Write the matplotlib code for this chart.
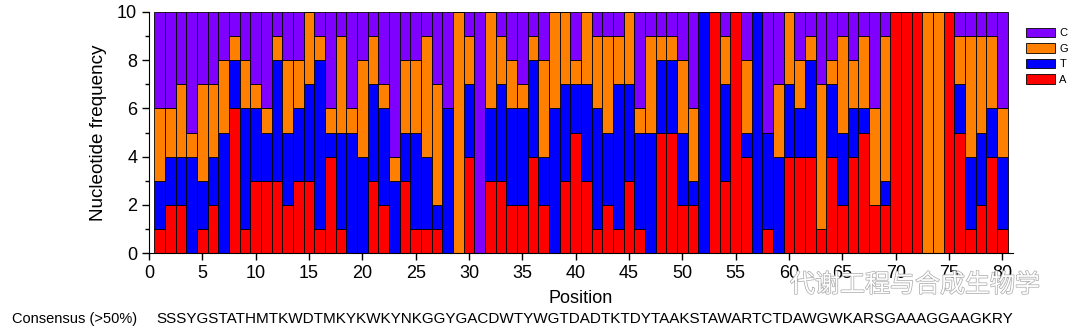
import matplotlib
matplotlib.use("Agg")
import matplotlib.pyplot as plt
import matplotlib.patheffects as pe
import numpy as np

plt.rcParams['font.family'] = ['Liberation Sans', 'DejaVu Sans']

# Nucleotide counts per position (out of 10).
positions = np.arange(1, 81)
count_a = [1, 2, 2, 0, 1, 2, 0, 6, 1, 3, 3, 3, 2, 3, 3, 1, 4, 1, 0, 0,
           3, 2, 0, 3, 1, 1, 1, 0, 0, 4, 0, 3, 3, 2, 2, 4, 2, 0, 3, 5,
           3, 1, 2, 1, 3, 1, 0, 5, 5, 2, 2, 0, 10, 3, 10, 4, 0, 1, 0, 4,
           4, 4, 1, 4, 2, 4, 5, 2, 2, 10, 10, 10, 0, 0, 10, 5, 1, 2, 4, 1]
count_t = [2, 2, 2, 4, 2, 2, 5, 2, 5, 3, 2, 5, 3, 3, 4, 7, 1, 4, 5, 4,
           4, 4, 3, 2, 4, 3, 1, 6, 0, 3, 0, 3, 4, 4, 4, 4, 2, 6, 4, 2,
           4, 5, 3, 6, 4, 4, 5, 3, 3, 3, 1, 10, 0, 4, 0, 1, 10, 4, 4, 3,
           2, 4, 0, 3, 3, 2, 1, 0, 1, 0, 0, 0, 0, 0, 0, 2, 3, 3, 2, 3]
count_g = [3, 2, 3, 1, 4, 3, 3, 1, 2, 1, 1, 1, 3, 2, 3, 1, 1, 4, 1, 4,
           2, 1, 1, 3, 3, 5, 5, 0, 10, 2, 0, 4, 2, 2, 1, 1, 4, 4, 3, 1,
           3, 3, 4, 2, 3, 1, 4, 1, 1, 3, 3, 0, 0, 2, 0, 3, 0, 0, 3, 3,
           2, 1, 6, 1, 4, 2, 3, 4, 6, 0, 0, 0, 10, 10, 0, 2, 5, 4, 3, 2]
count_c = [4, 4, 3, 5, 3, 3, 2, 1, 2, 3, 4, 1, 2, 2, 0, 1, 4, 1, 4, 2,
           1, 3, 6, 2, 2, 1, 3, 4, 0, 1, 10, 0, 1, 2, 3, 1, 2, 0, 0, 2,
           0, 1, 1, 1, 0, 4, 1, 1, 1, 2, 4, 0, 0, 1, 0, 2, 0, 5, 3, 0,
           2, 1, 3, 2, 1, 2, 1, 4, 1, 0, 0, 0, 0, 0, 0, 1, 1, 1, 1, 4]
consensus = "SSSYGSTATHMTKWDTMKYKWKYNKGGYGACDWTYWGTDADTKTDYTAAKSTAWARTCTDAWGWKARSGAAAGGAAGKRY"

fig = plt.figure(figsize=(10.72, 3.30), dpi=100)
ax = fig.add_axes([149/1072, 1 - 253/330, 864/1072, 241/330])

edge = dict(width=1.0, edgecolor='black', linewidth=0.6)
a = np.array(count_a)
t = np.array(count_t)
g = np.array(count_g)
ba = ax.bar(positions, a, color='#ff0000', label='A', **edge)
bt = ax.bar(positions, t, bottom=a, color='#0000ff', label='T', **edge)
bg = ax.bar(positions, g, bottom=a + t, color='#ff8000', label='G', **edge)
bc = ax.bar(positions, count_c, bottom=a + t + g, color='#8000ff', label='C', **edge)

ax.set_xlim(0, 81)
ax.set_ylim(0, 10)
ax.set_xticks(np.arange(0, 81, 5))
ax.set_yticks(np.arange(0, 11, 2))
ax.set_yticks(np.arange(1, 10, 2), minor=True)
for s in ['top', 'right']:
    ax.spines[s].set_visible(False)
ax.tick_params(axis='both', which='major', labelsize=13, direction='out', length=5, width=1)
ax.tick_params(axis='y', which='minor', length=3, width=1)
ax.set_xlabel('Position', fontsize=13, labelpad=6)
ax.set_ylabel('Nucleotide frequency', fontsize=13.6, labelpad=7)

ax.legend(handles=[bc, bg, bt, ba], loc='upper left', bbox_to_anchor=(1026/1072, 1 - 28/330),
          bbox_transform=fig.transFigure, frameon=False, fontsize=8,
          handlelength=2.6, handleheight=0.9, labelspacing=0.45, handletextpad=0.4,
          borderpad=0, borderaxespad=0)

fig.text(12/1072, 1 - 319/330, 'Consensus (>50%)', fontsize=10.5, va='center')
fig.text(156/1072, 1 - 319/330, consensus, fontsize=11.0, va='center')

# watermark
wm = fig.text(790/1072, 1 - 285/330, '代谢工程与合成生物学', fontsize=18, va='center',
              color='white', family=['Noto Sans CJK SC', 'DejaVu Sans'])
wm.set_path_effects([pe.withStroke(linewidth=1.0, foreground='#a8a8a8')])

fig.savefig('out.png', dpi=100)
